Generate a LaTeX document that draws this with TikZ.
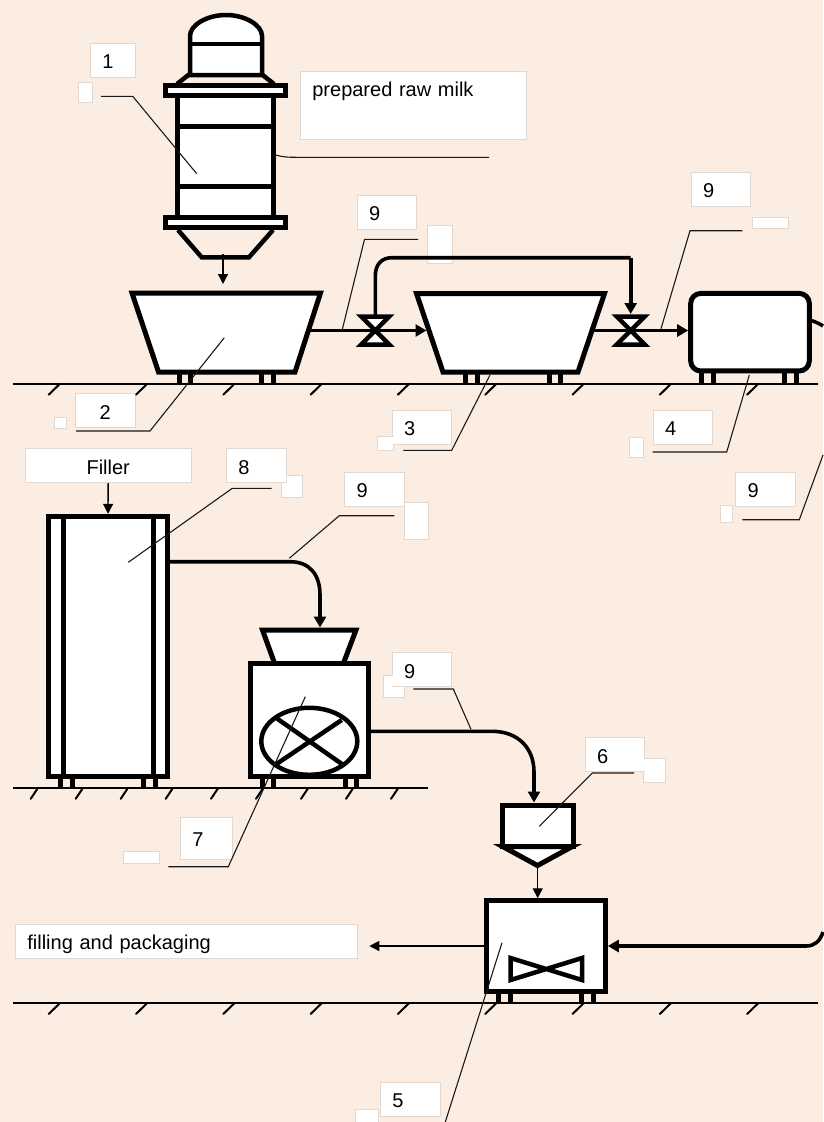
\documentclass[tikz,border=0pt]{standalone}
\usepackage{fontspec}
\setmainfont{Liberation Sans}
\usepackage{xcolor}
\usetikzlibrary{arrows.meta, shapes.geometric}
\definecolor{bgpeach} {RGB}{252, 237, 227}
\definecolor{boxgrey} {RGB}{226, 216, 210}
\definecolor{leadgrey}{RGB}{25, 25, 25}
\tikzset{
  % Equipment outline
  vessel/.style={
    rectangle, draw=black, fill=white, line width=5pt, inner sep=0pt
  },
  % White label box
  lab/.style={
    rectangle, anchor=north west, fill=white, draw=boxgrey, line width=0.7pt,
    inner xsep=12pt, inner ysep=0pt, text width=35.5pt, minimum height=34pt,
    text height=19pt, text depth=2pt, align=left, text=black,
    font=\fontsize{20pt}{24pt}\selectfont
  },
  % Blank patch
  patch/.style={
    rectangle, anchor=north west, fill=white, draw=boxgrey, line width=0.7pt,
    inner sep=0pt
  },
  % Arrow styles
  pipe/.style={line width=3.6pt},
  pipearr/.style={pipe, -{Triangle[length=11pt, width=12pt]}},
  thinarr/.style={line width=1.3pt, -{Triangle[length=10pt, width=10pt]}},
  leader/.style={line width=1.1pt, color=leadgrey},
  legbar/.style={line width=5pt},
  floor/.style={line width=2pt},
  hatch/.style={line width=2pt, line cap=round},
  valve/.pic={
    \draw[line width=4.5pt, fill=white]
      (-14,-14) -- (14,-14) -- (-14,14) -- (14,14) -- cycle;
  },
}
\begin{document}
\begin{tikzpicture}[x=1pt, y=-1pt]
  \useasboundingbox (0,0) rectangle (823,1122);
  \fill[bgpeach] (0,0) rectangle (823,1122);

  % Label boxes
  \node[lab, text width=21pt] (lab1) at (90,43) {1};
  \node[patch, minimum width=14pt, minimum height=20pt] (tag1) at (78,82) {};
  \node[lab, text width=202pt, inner ysep=7pt, text height=18pt, text depth=36pt] (labmilk) at (300,71) {prepared raw milk};
  \node[lab] (lab9a) at (356.7,195) {9};
  \node[patch, minimum width=24.4pt, minimum height=37.4pt] (tag9a) at (427.3,225.3) {};
  \node[lab] (lab9b) at (690.7,172) {9};
  \node[patch, minimum width=36.6pt, minimum height=11.4pt] (tag9b) at (751.7,216.7) {};
  \node[lab, align=center] (lab2) at (75,393.3) {2};
  \node[patch, minimum width=12pt, minimum height=11.6pt] (tag2) at (54.3,416.7) {};
  \node[lab] (lab3) at (391.7,410) {3};
  \node[patch, minimum width=16.6pt, minimum height=14.3pt] (tag3) at (376.7,436) {};
  \node[lab] (lab4) at (652.7,410) {4};
  \node[patch, minimum width=14pt, minimum height=20pt] (tag4) at (629.3,437.3) {};
  \node[patch, minimum width=24pt, minimum height=37.5pt] (tag9c) at (403.5,501.7) {};
  \node[lab] (lab9c) at (344.3,471.7) {9};
  \node[lab] (lab9d) at (735.3,471.7) {9};
  \node[patch, minimum width=12pt, minimum height=16.4pt] (tag9d) at (720.3,505.3) {};
  \node[patch, minimum width=21pt, minimum height=22.6pt] (tag8) at (280.7,474.7) {};
  \node[lab] (lab8) at (226,448.3) {8};
  \node[lab, text width=141.7pt, align=center] (labfiller) at (25,448.3) {Filler};
  \node[patch, minimum width=21.3pt, minimum height=22.3pt] (tag9e) at (382.7,675) {};
  \node[lab] (lab9e) at (391.7,652.3) {9};
  \node[lab, text width=28.3pt, minimum height=42.6pt] (lab7) at (180,816.7) {7};
  \node[patch, minimum width=36pt, minimum height=12.3pt] (tag7) at (123.3,851) {};
  \node[patch, minimum width=21.7pt, minimum height=23.4pt] (tag6) at (643.3,758.3) {};
  \node[lab] (lab6) at (584.7,737.3) {6};
  \node[lab, text width=317.7pt] (labfill) at (15,923.5) {filling and packaging};
  \node[lab] (lab5) at (380,1081.7) {5};
  \node[patch, minimum width=23.6pt, minimum height=13pt] (tag5) at (354.7,1109.3) {};
  % Where a patch runs into a box they read as one white shape
  \fill[white] (281,475) rectangle (286,482);
  \fill[white] (392,436.5) rectangle (393.7,444.4);
  \fill[white] (403,502.2) rectangle (404.2,505.2);
  \fill[white] (392,675.5) rectangle (404.4,686);
  \fill[white] (643.6,758.8) rectangle (644.6,771);

  % Floors
  \draw[floor] (13,383.7) -- (818,383.7);
  \draw[floor] (13,787.8) -- (427.7,787.8);
  \draw[floor] (13,1002.7) -- (818,1002.7);
  \foreach \x in {48.7,136,223.3,310.6,397.9,485.2,572.5,659.8,747.1} {
    \draw[hatch] (\x,394.7) -- ++(11.3,-11);
    \draw[hatch] (\x,1014) -- ++(11.3,-11);
  }
  \foreach \x in {30.7,75.7,120.7,165.7,211,256,301,346,391}
    \draw[hatch] (\x,798.8) -- ++(6.7,-10);

  % Legs
  \foreach \x in {179.2,190.5,261.5,273.5,465.7,477.3,549,560,701.2,713,784.5,796.2}
    \draw[legbar] (\x,370) -- (\x,383);
  \foreach \x in {60.3,72,143.7,155.3,262.3,273.7,345,356.7}
    \draw[legbar] (\x,776) -- (\x,787);
  \foreach \x in {498.5,510.2,581.8,593.2}
    \draw[legbar] (\x,990) -- (\x,1002);

  % Column
  \draw[vessel, line width=4.5pt] (190,75) -- (190,36)
    .. controls (190,25) and (207,15) .. (226,15)
    .. controls (245,15) and (262,25) .. (262,36) -- (262,75) -- cycle;
  \draw[line width=4.5pt] (190,44) -- (262,44);
  \draw[line width=4.5pt] (189,74.5) -- (177,84);
  \draw[line width=4.5pt] (262,74.5) -- (274,84);
  \node[vessel, minimum width=96pt, minimum height=121.5pt] (colbody) at (225.5,156.3) {};
  \draw[vessel] (177.5,126) -- (273.5,126);
  \draw[vessel] (177.5,186.5) -- (273.5,186.5);
  \node[vessel, minimum width=120pt, minimum height=10pt] (coltop) at (225.5,90.5) {};
  \node[vessel, minimum width=120pt, minimum height=10pt] (colbot) at (225.5,222.5) {};
  \draw[line width=4.5pt] (178,230) -- (201.7,257.3) -- (249,257.3) -- (273,230);

  % Tanks
  \draw[vessel] (132,293) -- (320.5,293) -- (295,372) -- (158.5,372) -- cycle;
  \draw[vessel] (416.5,293.5) -- (604.5,293.5) -- (578,372) -- (443,372) -- cycle;
  \node[vessel, rounded corners=10pt, minimum width=118.6pt, minimum height=77.5pt] (tankC) at (750,332.2) {};
  \coordinate (tankAout) at (308,330.5);
  \coordinate (tankBin)  at (426.5,330.5);
  \coordinate (tankBout) at (592,330.5);

  % Valves and pipes
  \pic (valveA) at (375.3,330.5) {valve};
  \pic (valveB) at (630.7,330.5) {valve};
  \draw[pipearr] (tankAout) -- (tankBin);
  \draw[pipearr] (tankBout) -- (tankC.west |- tankBout);
  \draw[pipe] (375.3,316) -- (375.3,276) .. controls (375.3,264) and (382,257.7) .. (392,257.7)
    -- (630.7,257.7);
  \draw[pipearr] (630.7,257.7) -- (630.7,314);

  % Filler tank
  \node[vessel, minimum width=118.7pt, minimum height=259.7pt] (fillertank) at (107.7,646.2) {};
  \draw[vessel] (63,516.3) -- (63,776);
  \draw[vessel] (153,516.3) -- (153,776);

  % Hardening unit
  \draw[vessel] (262.5,630) -- (356,630) -- (343.3,663.6) -- (274.7,663.6) -- cycle;
  \coordinate (hopperin) at (320,627.5);
  \node[vessel, minimum width=118pt, minimum height=112.7pt] (hardener) at (309,720) {};
  \node[vessel, ellipse, line width=4.5pt, minimum width=96pt, minimum height=67pt] (wheel) at (309.3,741.3) {};
  \draw[line width=4.5pt] (276.7,718.3) -- (343.3,765);
  \draw[line width=4.5pt] (341.7,720) -- (275,765);

  % Dosing unit
  \node[vessel, minimum width=71pt, minimum height=41pt] (doser) at (537.8,825.5) {};
  \draw[vessel] (503,846.7) -- (572,846.7) -- (537.5,865.5) -- cycle;
  \coordinate (dosetip) at (537.7,868);

  % Mixer
  \node[vessel, minimum width=118.6pt, minimum height=90.3pt] (mixer) at (546,945.9) {};
  \draw[line width=4.5pt, fill=white] (510.5,958) -- (582,980) -- (582,958) -- (510.5,980) -- cycle;

  % Remaining connectors
  \coordinate (colout) at (223,254);
  \coordinate (colin)  at (223,284);
  \draw[thinarr] (colout) -- (colin);
  \draw[thinarr] (labfiller) -- (fillertank);
  \draw[pipearr] (fillertank.east |- 0,561.7) -- (290,561.7) .. controls (310,561.7) and (320,575) .. (320,595)
    -- (hopperin);
  \draw[pipearr] (hardener.east |- 0,731.3) -- (492,731.3) .. controls (518,731.3) and (534,748) .. (534,772)
    -- (534,802.5);
  \draw[thinarr] (dosetip) -- (dosetip |- mixer.north);
  \coordinate (fillout) at (369.3,946);
  \draw[thinarr] (mixer.west |- fillout) -- (fillout);
  \draw[pipe] (tankC.east |- 0,320.7) .. controls (816,322) and (820,324) .. (823,326);
  \draw[pipearr] (823,932) .. controls (820,941) and (815,946) .. (806,946) -- (mixer.east |- 0,946);

  % Leaders
  \draw[leader] (101,96.3) -- (132.7,96.3) -- (196.7,173.7);
  \draw[leader] (275.7,155) .. controls (282,157) and (288,157.3) .. (297,157.3) -- (489,157.3);
  \draw[leader] (418,239.3) -- (364.5,239.3) -- (342.3,329.5);
  \draw[leader] (742.3,230.7) -- (690,230.7) -- (661,328.7);
  \draw[leader] (224.3,337.7) -- (150,431) -- (76,431);
  \draw[leader] (403.3,450.3) -- (451.7,450.3) -- (490,375);
  \draw[leader] (652.7,452) -- (726.7,452) -- (749.3,375);
  \draw[leader] (742.3,519.7) -- (799.3,519.7) -- (823,455);
  \draw[leader] (394.3,515.7) -- (339.3,515.7) -- (289.3,558.3);
  \draw[leader] (271.7,488.3) -- (232.3,488.3) -- (128.3,562.3);
  \draw[leader] (413.3,689) -- (453.3,689) -- (471,729.3);
  \draw[leader] (168.3,866.7) -- (228.3,866.7) -- (305.3,696.7);
  \draw[leader] (634,773) -- (592.3,773) -- (539.3,826.3);
  \draw[leader] (502,942.7) -- (445.3,1122);
\end{tikzpicture}
\end{document}
